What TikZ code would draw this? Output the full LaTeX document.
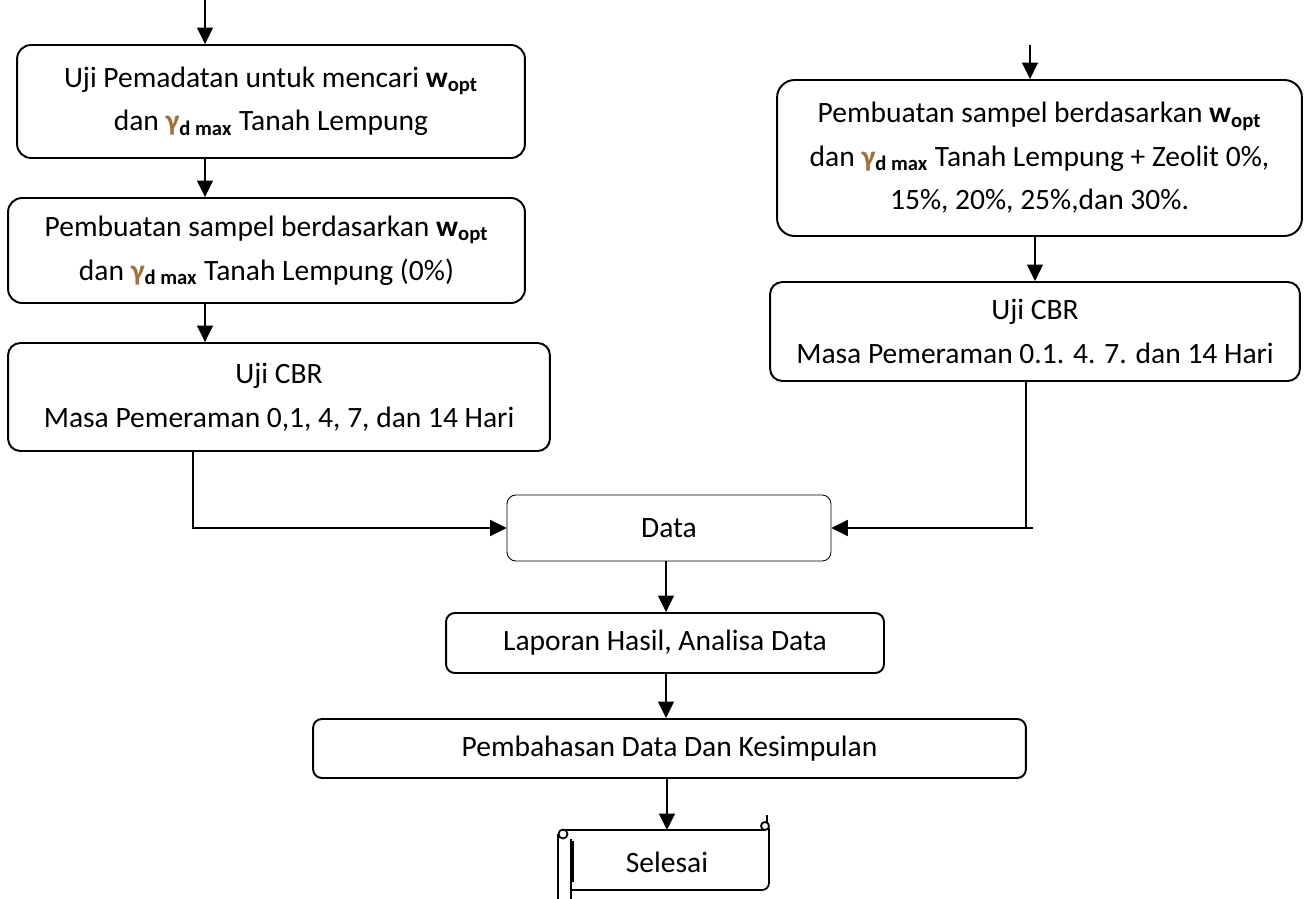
\documentclass[tikz,border=0pt]{standalone}
\usepackage{fontspec}
\setmainfont{Carlito}
\usepackage{xcolor}
\usepackage{tikz}
\usetikzlibrary{arrows.meta,positioning,calc}
\definecolor{ink}{HTML}{000000}
\definecolor{gam}{HTML}{A0713F}
\newcommand{\wopt}{\textbf{w}\textsubscript{\textbf{opt}}}
\newcommand{\gdmax}{{\color{gam}\textbf{γ}}\textsubscript{\textbf{d max}}}
\tikzset{
  box/.style={draw=ink,line width=1.1pt,rounded corners=#1,align=center,inner sep=0pt},
  box/.default=5pt,
  flow/.style={-{Triangle[length=3.3mm,width=3.2mm]},line width=0.8pt,ink},
  link/.style={-{Triangle[length=3.3mm,width=3.2mm]},line width=1.1pt,ink},
  scroll/.style={line width=1pt,ink},
}

\begin{document}
\begin{tikzpicture}[x=0.02cm,y=-0.02cm,font=\fontsize{16.8}{24.8}\selectfont]
  \useasboundingbox (0,0) rectangle (1305,899);

  \node[box=8pt,minimum width=10.16cm,minimum height=2.26cm] (pemadatan) at (271,101.5)
    {Uji Pemadatan untuk mencari \wopt\\dan \gdmax{} Tanah Lempung};
  \node[box=8pt,minimum width=10.34cm,minimum height=2.1cm] (sampelL) at (266.5,250.5)
    {Pembuatan sampel berdasarkan \wopt\\dan \gdmax{} Tanah Lempung (0\%)};
  \node[box=7pt,minimum width=10.84cm,minimum height=2.16cm] (cbrL) at (279,397)
    {Uji CBR\\Masa Pemeraman 0,1, 4, 7, dan 14 Hari};

  \node[box=10pt,minimum width=10.5cm,minimum height=3.12cm] (sampelR) at (1039.5,158)
    {Pembuatan sampel berdasarkan \wopt\\dan \gdmax{} Tanah Lempung + Zeolit 0\%,\\15\%, 20\%, 25\%,dan 30\%.};
  \node[box=7pt,minimum width=10.6cm,minimum height=1.98cm] (cbrR) at (1035,331.5)
    {Uji CBR\\Masa Pemeraman 0.1. 4. 7. dan 14 Hari};

  \node[box=5pt,line width=0.5pt,minimum width=6.48cm,minimum height=1.32cm] (data) at (669,528) {Data};
  \node[box,minimum width=8.76cm,minimum height=1.2cm] (laporan) at (665,643) {Laporan Hasil, Analisa Data};
  \node[box,minimum width=14.26cm,minimum height=1.18cm] (bahas) at (669.5,748.5) {Pembahasan Data Dan Kesimpulan};
  \node (selesai) at (667,862) {Selesai};

  \draw[scroll] (563,830) -- (764,830);
  \draw[scroll] (765,826) circle (0.08cm);
  \draw[scroll] (767,822) -- (767,815);
  \draw[scroll,rounded corners=4pt] (769,828) -- (769,890) -- (571,890);
  \draw[scroll] (563,834) circle (0.09cm);
  \draw[scroll] (558,834) -- (558,899);
  \draw[scroll] (571,839) -- (571,899);
  \draw[line width=2pt,ink] (572,841) -- (572,882);

  \coordinate (inL) at (205,0);
  \coordinate (inR) at (1030,45);
  \coordinate (colR) at (1035,0);
  \coordinate (jointL) at (193,0);
  \coordinate (jointR) at (1026,0);
  \coordinate (colM) at (666,0);

  \draw[flow] (inL) -- (pemadatan.north -| inL);
  \draw[flow] (pemadatan.south -| inL) -- (sampelL.north -| inL);
  \draw[flow] (sampelL.south -| inL) -- (cbrL.north -| inL);
  \draw[flow] (inR) -- (sampelR.north -| inR);
  \draw[flow] (sampelR.south -| colR) -- (cbrR.north -| colR);
  \draw[link] (cbrL.south -| jointL) |- (data.west);
  \draw[link] (cbrR.south -| jointR) |- (data.east);
  \draw[line width=1.1pt,ink] (data.east -| jointR) -- ++(7,0);
  \draw[flow] (data.south -| colM) -- (laporan.north -| colM);
  \draw[flow] (laporan.south -| colM) -- (bahas.north -| colM);
  \draw[flow] (bahas.south -| selesai) -- (selesai.north |- 0,830);
\end{tikzpicture}
\end{document}
